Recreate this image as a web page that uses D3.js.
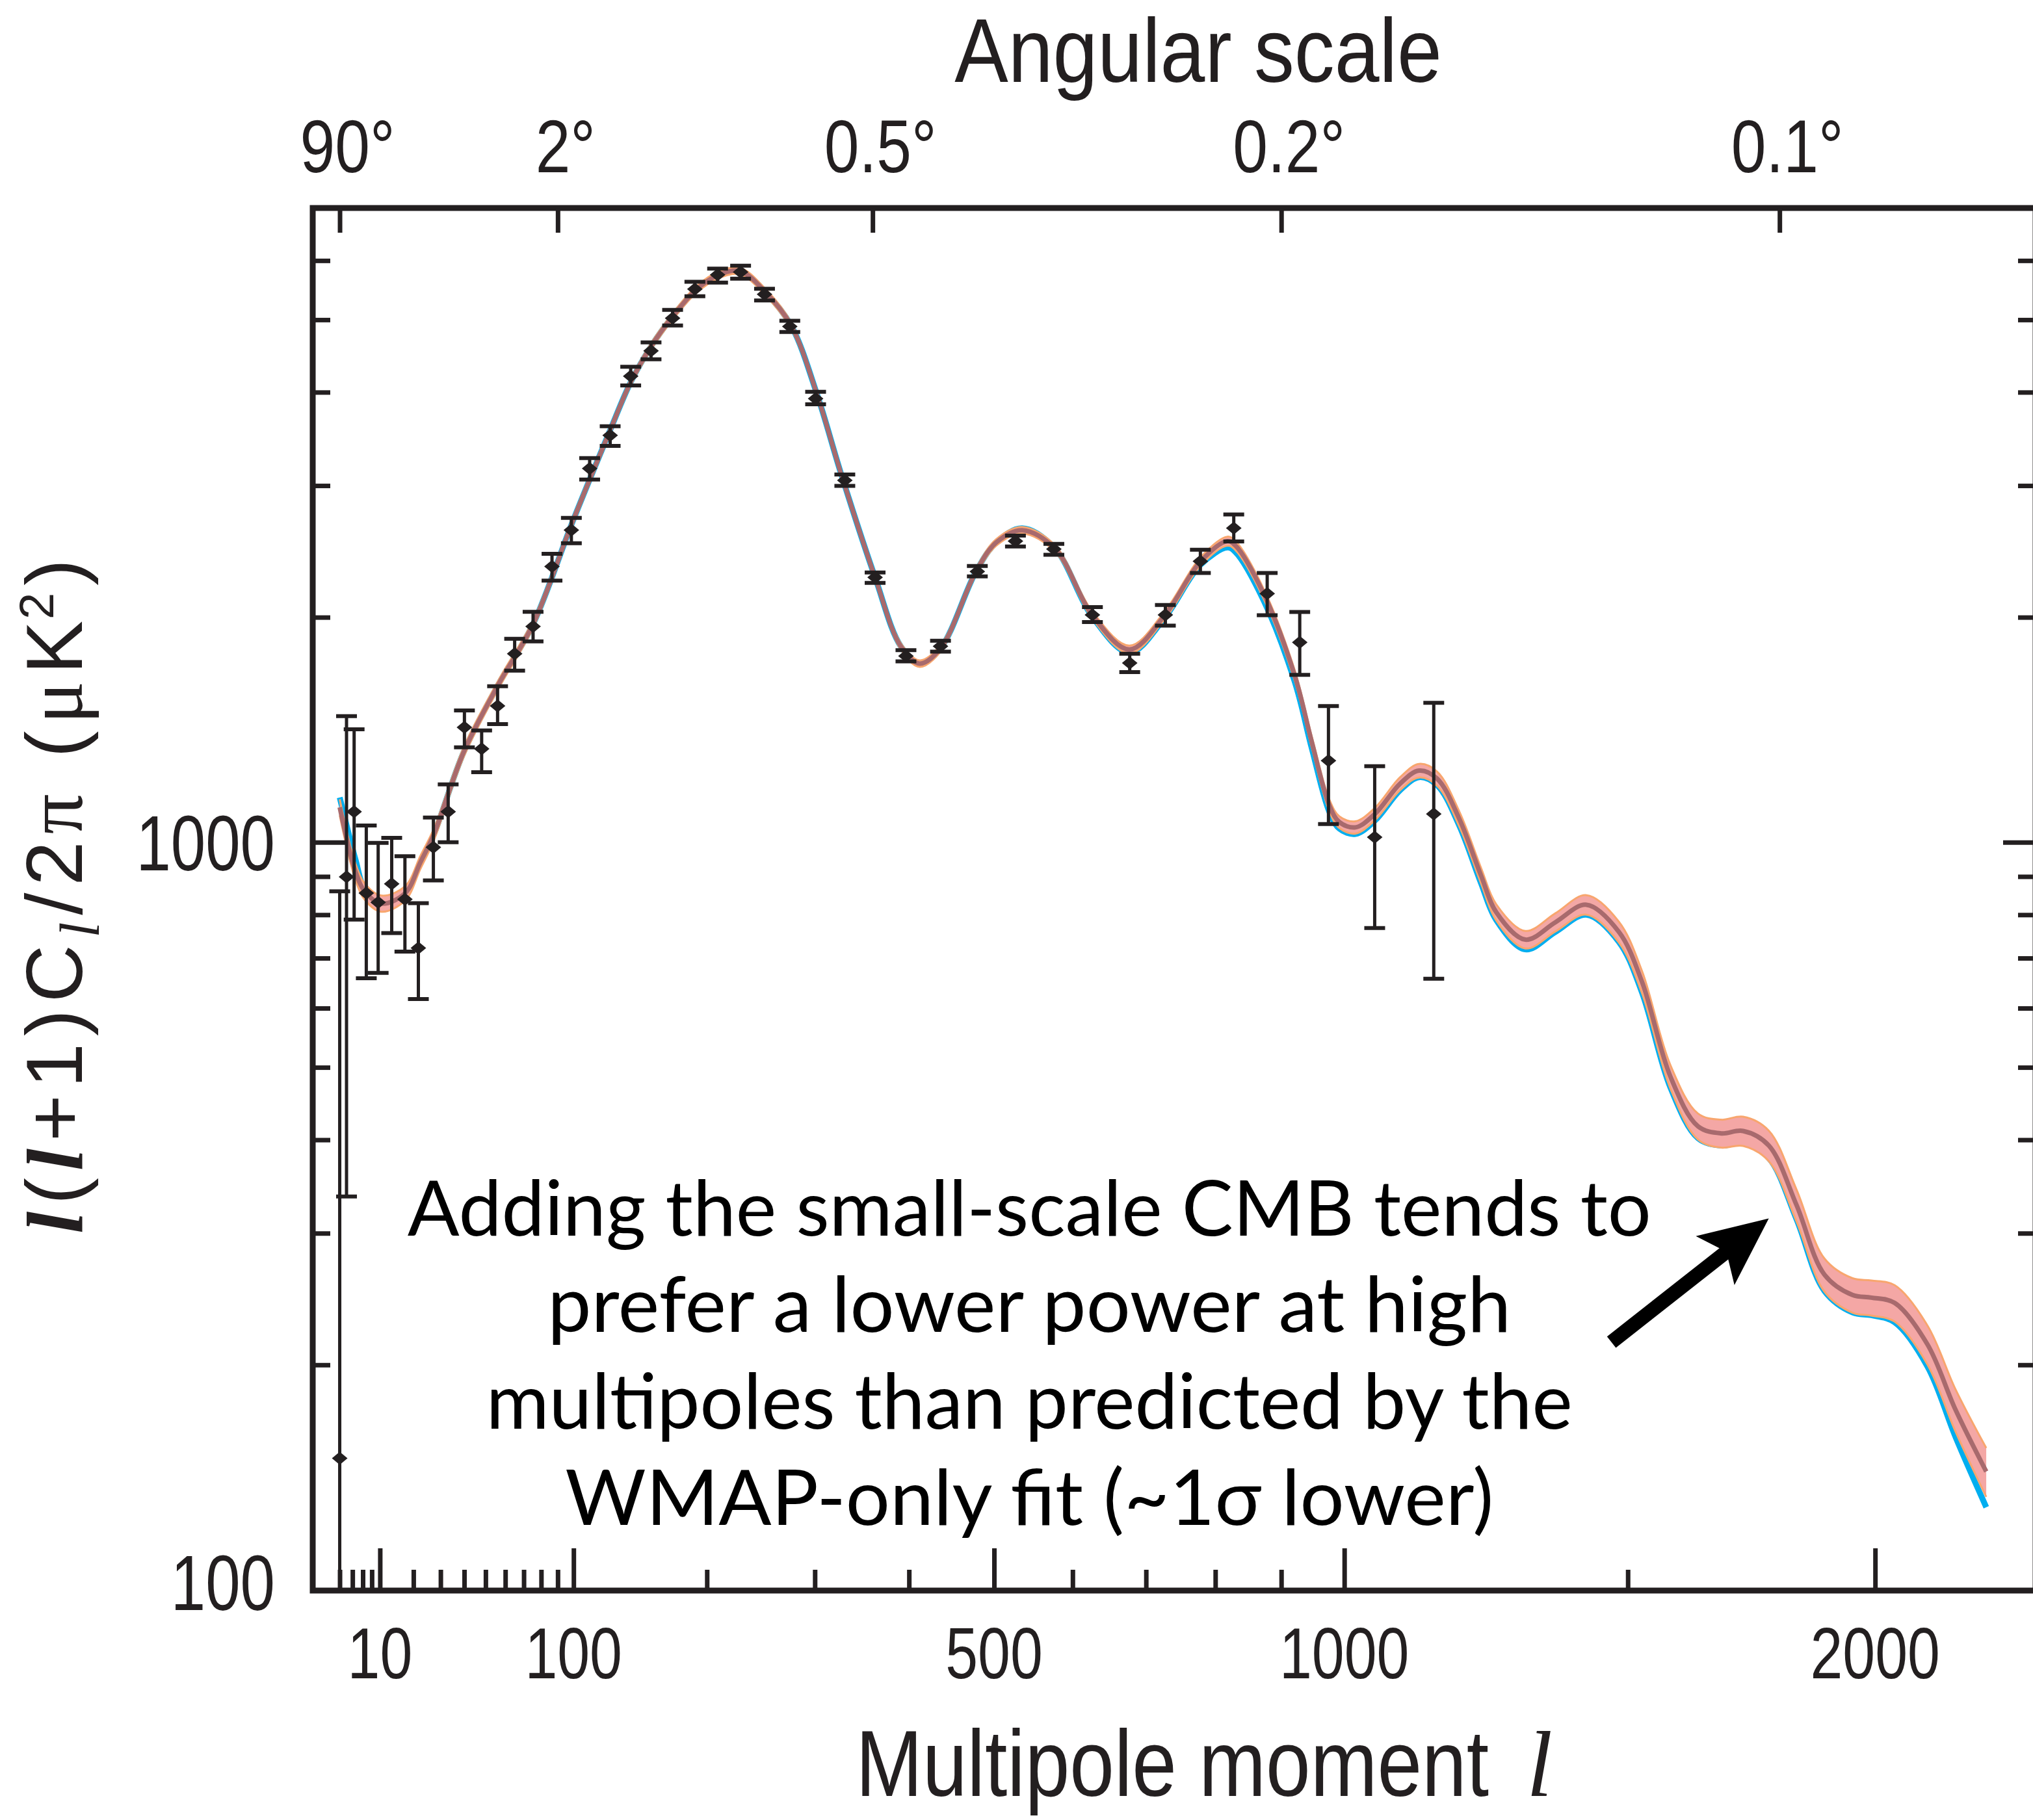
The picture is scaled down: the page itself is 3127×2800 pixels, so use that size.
<!DOCTYPE html>
<html>
<head>
<meta charset="utf-8">
<script src="https://cdn.jsdelivr.net/npm/d3@7"></script>
<style>
  html, body { margin: 0; padding: 0; background: #ffffff; }
  svg { display: block; }
</style>
</head>
<body>
<svg id="chart" width="3127" height="2800"></svg>
<script>
// ---- Binned temperature power spectrum: multipole, band power l(l+1)C_l/2pi (uK^2), error limits
const binL = [2, 3, 4.3, 6.75, 9.55, 13.2, 17.2, 21.7, 27.2, 33.1, 40.1, 48.1, 56.0, 65, 75.3,
  86.5, 98.6, 110.6, 124.7, 139.5, 154.8, 171.7, 189.9, 209.2, 229.5, 251.4, 275.4, 300.8,
  330.6, 362.7, 396.6, 436, 479.6, 526.5, 575.5, 626.4, 677.3, 727.4, 778, 827.5, 878.3,
  928.9, 974.5, 1049.7, 1149];
const binPower = [150, 899, 1099, 855, 831, 880, 839, 722, 985, 1099, 1425, 1334, 1522, 1787,
  1944, 2338, 2616, 3162, 3502, 4203, 4544, 5024, 5495, 5742, 5793, 5408, 4898, 3921, 3049,
  2261, 1775, 1829, 2303, 2528, 2467, 2015, 1737, 2015, 2376, 2632, 2151, 1851, 1286, 1016, 1091];
const binLow = [0, 336, 788, 658, 669, 756, 714, 617, 889, 1000, 1340, 1241, 1439, 1697,
  1857, 2239, 2512, 3057, 3390, 4083, 4427, 4913, 5375, 5607, 5674, 5305, 4815, 3853, 2998,
  2223, 1746, 1799, 2268, 2487, 2424, 1971, 1689, 1949, 2292, 2526, 2012, 1675, 1058, 768, 657];
const binHigh = [860, 1475, 1416, 1053, 998, 1014, 958, 829, 1079, 1195, 1501, 1411, 1617, 1872,
  2034, 2432, 2716, 3266, 3602, 4325, 4663, 5155, 5621, 5853, 5906, 5500, 4985, 4006, 3104,
  2296, 1807, 1860, 2342, 2572, 2507, 2063, 1787, 2077, 2462, 2745, 2292, 2033, 1521, 1264, 1537];

// ---- Model spectra sampled at multipole knots
const modelL = [2, 4.54, 6.5, 10.4, 17.3, 22.4, 27.3, 39.8, 56.5, 75.4, 99.2, 124, 139.6, 155.8,
  173, 190.8, 210, 229.2, 252, 276.7, 302.4, 326.7, 362.7, 390.8, 412, 436, 478, 503, 535, 577,
  626, 677, 727, 778, 818, 830, 873, 921, 948, 976, 992, 1018, 1050, 1092, 1124, 1155, 1193,
  1231, 1258, 1310, 1365, 1422, 1483, 1527, 1582, 1636, 1682, 1726, 1778, 1835, 1893, 1952,
  1992, 2042, 2113, 2175, 2243];
// WMAP + small-scale CMB fit
const modelCombined = [1114, 914, 858, 828, 855, 940, 1023, 1321, 1627, 1960, 2678, 3532, 4129,
  4634, 5082, 5481, 5740, 5806, 5448, 4911, 3967, 3112, 2261, 1829, 1734, 1817, 2303, 2520, 2615,
  2471, 2015, 1811, 2015, 2373, 2528, 2494, 2149, 1672, 1361, 1120, 1064, 1047, 1091, 1198, 1247,
  1216, 1075, 903, 806, 741, 782, 825, 759, 651, 486, 417, 408, 411, 393, 327, 264, 248, 246,
  242, 213, 174, 144];
// WMAP-only fit
const modelWmapOnly = [1148, 949, 862, 828, 855, 940, 1023, 1321, 1627, 1960, 2678, 3532, 4129,
  4634, 5082, 5481, 5740, 5806, 5448, 4911, 3967, 3112, 2261, 1829, 1734, 1817, 2303, 2520, 2630,
  2471, 2005, 1794, 2000, 2350, 2479, 2445, 2105, 1640, 1335, 1098, 1043, 1026, 1069, 1174, 1222,
  1192, 1053, 882, 787, 719, 759, 800, 736, 630, 470, 402, 393, 396, 378, 313, 251, 235, 233,
  228, 199, 160, 129];
// 1-sigma spread of the combined fit, percent
const modelBandPct = [2.5, 2.5, 2.5, 2.5, 2.2, 2, 1.8, 1.5, 1.3, 1.2, 1.1, 1, 1, 1, 1, 1, 1, 1,
  1, 1, 1, 1, 1, 1, 1, 1, 1, 1, 1, 1, 1.1, 1.2, 1.2, 1.3, 1.4, 1.4, 1.5, 1.6, 1.7, 1.8, 1.8, 1.9,
  1.9, 2, 2.1, 2.2, 2.3, 2.4, 2.5, 2.7, 2.8, 3, 3.2, 3.4, 3.6, 4, 4.3, 4.5, 4.7, 4.9, 5.1, 5.3,
  5.4, 5.6, 6, 6.5, 7.5];

// ---- Axis ticks and labels
const angleDegrees = [90, 2, 0.5, 0.2, 0.1];
const angleLabels = ["90°", "2°", "0.5°", "0.2°", "0.1°"];
const lMajorTicks = [10, 100, 500, 1000, 2000];
const lMajorLabels = ["10", "100", "500", "1000", "2000"];
const lMinorTicks = [2, 4, 6, 8, 20, 30, 40, 50, 60, 70, 80, 90, 200, 300, 400,
  600, 700, 800, 900, 1500];
const powerMajorTicks = [100, 1000];
const powerLabels = ["100", "1000"];
const powerMinorTicks = [200, 300, 400, 500, 600, 700, 800, 900, 2000, 3000, 4000, 5000, 6000];

const noteLines = [
  "Adding the small-scale CMB tends to",
  "prefer a lower power at high",
  "multipoles than predicted by the",
  "WMAP-only fit (~1σ lower)"
];
const noteWidths = [1913, 1482, 1671, 1428];
const noteAnchor = { l: 544, power: 298 };
const arrowFrom = { l: 1469, power: 214.5 };
const arrowTo = { l: 1778, power: 314 };

(function draw() {
  // ---- Scales: power-law multipole axis, logarithmic power axis
  const x = d3.scalePow().exponent(0.6).domain([0, 2353]).range([484.5, 3130]);
  const y = d3.scaleLog().domain([100, 7040]).range([2446, 321]);

  const ink = "#231f20";
  const sans = "'Liberation Sans', Arial, Helvetica, sans-serif";
  const serif = "'Liberation Serif', 'Times New Roman', serif";
  const svg = d3.select("#chart");

  const frameL = x.range()[0] - 3.5, frameR = x.range()[1] + 1;
  const frameT = y.range()[1] - 1, frameB = y.range()[0] + 1;

  // ---- Model curves
  const knots = modelL.map((l, i) => ({
    l, red: modelCombined[i], blue: modelWmapOnly[i], pct: modelBandPct[i]
  }));
  const curve = d3.curveCatmullRom.alpha(0.5);

  svg.append("path")
    .datum(knots)
    .attr("d", d3.line().curve(curve).x(d => x(d.l)).y(d => y(d.blue)))
    .attr("fill", "none").attr("stroke", "#00aeef").attr("stroke-width", 9);

  svg.append("path")
    .datum(knots)
    .attr("d", d3.area().curve(curve).x(d => x(d.l))
      .y0(d => y(d.red * (1 - d.pct / 100))).y1(d => y(d.red * (1 + d.pct / 100))))
    .attr("fill", "#f4a7a5").attr("stroke", "none");

  [1, -1].forEach(s => {
    svg.append("path")
      .datum(knots)
      .attr("d", d3.line().curve(curve).x(d => x(d.l)).y(d => y(d.red * (1 + s * d.pct / 100))))
      .attr("fill", "none").attr("stroke", "#f8a66e").attr("stroke-width", 3);
  });

  svg.append("path")
    .datum(knots)
    .attr("d", d3.line().curve(curve).x(d => x(d.l)).y(d => y(d.red)))
    .attr("fill", "none").attr("stroke", "#a86a6d").attr("stroke-width", 7);

  // ---- Binned data with error bars
  const bins = binL.map((l, i) => ({ l, p: binPower[i], lo: binLow[i], hi: binHigh[i] }));
  const yClamp = v => (v <= y.domain()[0] ? y.range()[0] : y(v));
  const capHalf = 16;
  const gBins = svg.append("g").attr("stroke", ink).attr("fill", ink);

  bins.forEach(d => {
    const cx = x(d.l);
    gBins.append("line")
      .attr("x1", cx).attr("x2", cx)
      .attr("y1", y(d.hi)).attr("y2", yClamp(d.lo))
      .attr("stroke-width", 5);
    gBins.append("line")
      .attr("x1", cx - capHalf).attr("x2", cx + capHalf)
      .attr("y1", y(d.hi)).attr("y2", y(d.hi))
      .attr("stroke-width", 6);
    if (d.lo > y.domain()[0]) {
      gBins.append("line")
        .attr("x1", cx - capHalf).attr("x2", cx + capHalf)
        .attr("y1", y(d.lo)).attr("y2", y(d.lo))
        .attr("stroke-width", 6);
    }
    const cy = y(d.p);
    gBins.append("path")
      .attr("d", `M${cx - 12},${cy}L${cx},${cy - 10}L${cx + 12},${cy}L${cx},${cy + 10}Z`)
      .attr("stroke", "none");
  });

  // ---- Frame and ticks
  svg.append("rect")
    .attr("x", frameL).attr("y", frameT)
    .attr("width", frameR - frameL).attr("height", frameB - frameT)
    .attr("fill", "none").attr("stroke", ink).attr("stroke-width", 9);

  function tickSet(axisFn, scale, values, size, transform) {
    const g = svg.append("g").attr("transform", transform)
      .call(axisFn(scale).tickValues(values).tickSize(size).tickSizeOuter(0).tickFormat(""));
    g.select(".domain").remove();
    g.selectAll(".tick text").remove();
    g.selectAll(".tick line").attr("stroke", ink).attr("stroke-width", 7);
  }

  tickSet(d3.axisBottom, x, lMinorTicks, -32, `translate(0,${frameB})`);
  tickSet(d3.axisBottom, x, lMajorTicks, -65, `translate(0,${frameB})`);
  tickSet(d3.axisTop, x, angleDegrees.map(a => 180 / a), -38, `translate(0,${frameT})`);
  tickSet(d3.axisLeft, y, powerMinorTicks, -27, `translate(${frameL},0)`);
  tickSet(d3.axisLeft, y, [1000], -50, `translate(${frameL},0)`);
  tickSet(d3.axisRight, y, powerMinorTicks, -27, `translate(${frameR},0)`);
  tickSet(d3.axisRight, y, [1000], -50, `translate(${frameR},0)`);

  // ---- Text helpers (narrow sans set by horizontal scaling)
  function narrowText(px, py, str, size, sx, anchor) {
    return svg.append("text")
      .attr("transform", `translate(${px},${py}) scale(${sx},1)`)
      .attr("text-anchor", anchor)
      .attr("font-family", sans).attr("font-size", size)
      .attr("fill", ink).text(str);
  }

  // Bottom tick labels
  lMajorTicks.forEach((l, i) => narrowText(x(l), 2582, lMajorLabels[i], 112, 0.8, "middle"));
  // Top angular labels
  angleDegrees.forEach((a, i) => narrowText(x(180 / a) + 12, 265, angleLabels[i], 115, 0.84, "middle"));
  // Left power labels
  powerMajorTicks.forEach((v, i) => {
    const yy = v === y.domain()[0] ? y(v) - 12 : y(v);
    narrowText(423, yy + 43, powerLabels[i], 120, 0.8, "end");
  });

  // Axis titles
  narrowText(1843, 126, "Angular scale", 139, 0.89, "middle");
  narrowText(2290, 2763, "Multipole moment", 144, 0.857, "end");
  svg.append("text")
    .attr("x", 2348).attr("y", 2763)
    .attr("font-family", serif).attr("font-style", "italic")
    .attr("font-size", 144).attr("fill", ink).text("l");

  // Vertical axis title
  const yTitle = svg.append("text")
    .attr("transform", "translate(126,1379) rotate(-90)")
    .attr("text-anchor", "middle")
    .attr("font-family", sans).attr("font-size", 123).attr("fill", ink)
    .attr("textLength", 1038).attr("lengthAdjust", "spacing");
  const part = (t, o = {}) => {
    const s = yTitle.append("tspan").text(t);
    Object.entries(o).forEach(([k, v]) => s.attr(k, v));
    return s;
  };
  part("l", { "font-family": serif, "font-style": "italic", "font-weight": "bold" });
  part("(");
  part("l", { "font-family": serif, "font-style": "italic", "font-weight": "bold" });
  part("+1)C");
  part("l", { "font-family": serif, "font-style": "italic", "font-size": 86, dy: 26 });
  part("/2", { dy: -26 });
  part("π", { "font-family": serif });
  part(" (");
  part("μ", { "font-family": serif });
  part("K");
  part("2", { "font-size": 74, dy: -44, dx: -9 });
  part(")", { dy: 44 });

  // ---- Annotation
  const nx = x(noteAnchor.l), ny = y(noteAnchor.power);
  noteLines.forEach((t, i) => {
    svg.append("text")
      .attr("x", nx).attr("y", ny + i * 148.5)
      .attr("text-anchor", "middle")
      .attr("font-family", "Lato, 'Open Sans', sans-serif").attr("font-size", 118)
      .attr("fill", "#000")
      .attr("textLength", noteWidths[i]).attr("lengthAdjust", "spacingAndGlyphs")
      .text(t);
  });

  // Arrow pointing at the high-multipole tail
  const sx = x(arrowFrom.l), sy = y(arrowFrom.power);
  const tx = x(arrowTo.l), ty = y(arrowTo.power);
  const len = Math.hypot(tx - sx, ty - sy);
  const ux = (tx - sx) / len, uy = (ty - sy) / len;
  const nxv = -uy, nyv = ux;
  const headLen = 105, headHalf = 48, notch = 22;
  const bx = tx - ux * headLen, by = ty - uy * headLen;
  svg.append("line")
    .attr("x1", sx).attr("y1", sy)
    .attr("x2", tx - ux * (headLen - notch - 4)).attr("y2", ty - uy * (headLen - notch - 4))
    .attr("stroke", "#000").attr("stroke-width", 22);
  svg.append("path")
    .attr("d", `M${tx},${ty}L${bx + nxv * headHalf},${by + nyv * headHalf}` +
      `L${tx - ux * (headLen - notch)},${ty - uy * (headLen - notch)}` +
      `L${bx - nxv * headHalf},${by - nyv * headHalf}Z`)
    .attr("fill", "#000");
})();
</script>
</body>
</html>
